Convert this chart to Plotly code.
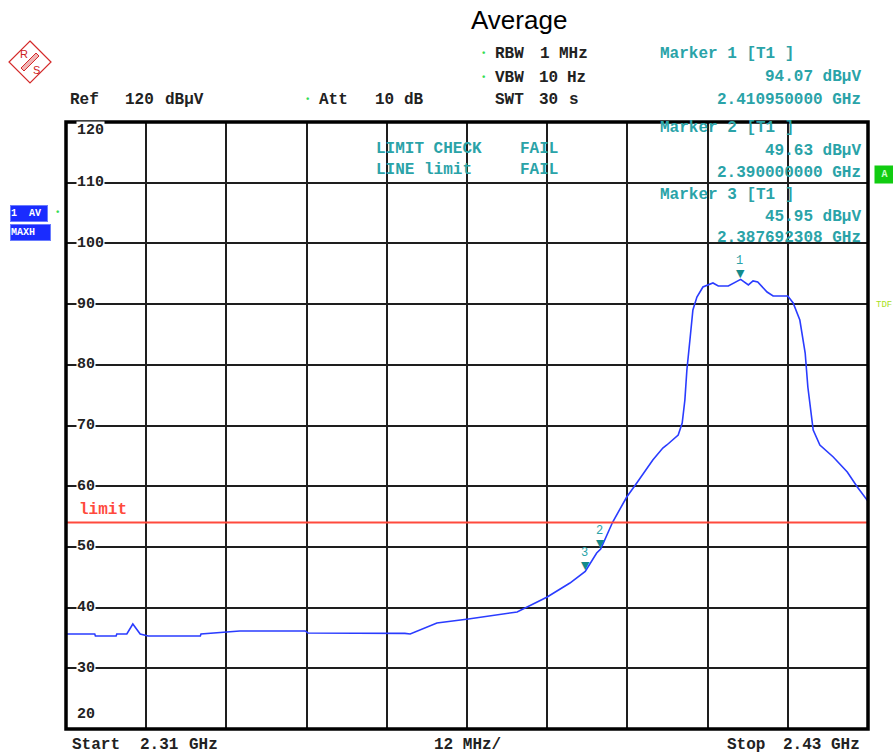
import plotly.graph_objects as go

# ---------------- data ----------------
freq_ghz = [2.3100, 2.3143, 2.3144, 2.3175, 2.3176, 2.3191, 2.3200, 2.3211, 2.3223,
            2.3301, 2.3302, 2.3360, 2.3458, 2.3462, 2.3607, 2.3615, 2.3655, 2.3702,
            2.3775, 2.3790, 2.3820, 2.3854, 2.3874, 2.387692308, 2.3894, 2.3900,
            2.3918, 2.3939, 2.3954, 2.3978, 2.3993, 2.3999, 2.4016, 2.4022, 2.4026,
            2.4029, 2.4034, 2.4038, 2.4044, 2.4053, 2.4068, 2.4076, 2.4091, 2.4101,
            2.41095, 2.4121, 2.4128, 2.4135, 2.4149, 2.4158, 2.4180, 2.4188, 2.4198,
            2.4206, 2.4210, 2.4218, 2.4228, 2.4248, 2.4269, 2.4284, 2.4299, 2.4300]
level_dbuv = [35.65, 35.65, 35.32, 35.32, 35.65, 35.65, 37.30, 35.65, 35.32,
              35.32, 35.65, 36.15, 36.15, 35.82, 35.75, 35.65, 37.46, 38.12,
              39.28, 40.10, 41.75, 44.05, 45.70, 45.95, 49.00, 49.63,
              54.10, 58.22, 60.53, 64.32, 66.29, 66.79, 68.43, 70.41, 74.20,
              79.14, 84.58, 89.03, 91.17, 92.82, 93.48, 92.99, 92.99, 93.64,
              94.07, 93.15, 93.81, 93.64, 91.99, 91.33, 91.33, 90.18, 87.38,
              81.94, 76.34, 69.26, 66.79, 64.81, 62.34, 59.87, 57.73, 57.50]

marker_names = ["1", "2", "3"]
marker_freq = [2.410950000, 2.390000000, 2.387692308]
marker_level = [94.07, 49.63, 45.95]

limit_level = 54
y_tick_values = [120, 110, 100, 90, 80, 70, 60, 50, 40, 30, 20]
x_start, x_stop = 2.31, 2.43
y_min, y_max = 20, 120

# ---------------- geometry helpers ----------------
W, H = 893, 754
L, R, T, B = 66, 868, 122, 729


def px(x):
    return (x - L) / (R - L)


def py(y):
    return (B - y) / (B - T)


MONO = "Liberation Mono"
TEAL = "#2aa3a8"
DARK = "#222222"

fig = go.Figure()

fig.add_trace(go.Scatter(x=freq_ghz, y=level_dbuv, mode="lines",
                         line=dict(color="#2a3cff", width=1.6),
                         hoverinfo="skip", showlegend=False))

# limit line
fig.add_trace(go.Scatter(x=[x_start, x_stop], y=[limit_level, limit_level], mode="lines",
                         line=dict(color="#ff4a3d", width=2),
                         hoverinfo="skip", showlegend=False))

annotations = []

# marker triangles & numbers
for name, f, lv in zip(marker_names, marker_freq, marker_level):
    annotations.append(dict(x=f, y=lv, xref="x", yref="y", text="▼", showarrow=False,
                            yanchor="bottom", yshift=-3,
                            font=dict(family="DejaVu Sans", size=11, color="#138a8a")))
    annotations.append(dict(x=f, y=lv, xref="x", yref="y", text=name, showarrow=False,
                            yanchor="bottom", yshift=9, xshift=-1,
                            font=dict(family=MONO, size=12, color=TEAL)))


def txt(x, y, s, color=DARK, size=16, anchor="left", bold=True, family=MONO, **kw):
    t = f"<b>{s}</b>" if bold else s
    d = dict(x=px(x), y=py(y), xref="paper", yref="paper", text=t, showarrow=False,
             xanchor=anchor, yanchor="middle", font=dict(family=family, size=size, color=color))
    d.update(kw)
    annotations.append(d)


# y tick labels inside plot
for v in y_tick_values:
    yy = B - (v - y_min) / (y_max - y_min) * (B - T)
    if v == y_max:
        yy = 131
    if v == y_min:
        yy = 714
    txt(76, yy, str(v), size=15, bgcolor="white", borderpad=0)

# title
txt(519, 20, "Average", color="black", size=26, anchor="center", bold=False,
    family="Liberation Sans")

# header left
txt(68, 100, "Ref")
txt(123, 100, "120")
txt(163, 100, "dBµV")
txt(307, 100, "•", color="#33dd55", size=9, anchor="center")
txt(317, 100, "Att")
txt(373, 100, "10")
txt(402, 100, "dB")

# RBW / VBW / SWT
txt(483, 54, "•", color="#33dd55", size=9, anchor="center")
txt(493, 54, "RBW")
txt(538, 54, "1")
txt(557, 54, "MHz")
txt(483, 78, "•", color="#33dd55", size=9, anchor="center")
txt(493, 78, "VBW")
txt(537, 78, "10")
txt(565, 78, "Hz")
txt(493, 100, "SWT")
txt(537, 100, "30")
txt(567, 100, "s")

# marker info
marker_rows = [(54, 77, 100), (128, 151, 173), (195, 217, 238)]
for name, f, lv, (y1, y2, y3) in zip(marker_names, marker_freq, marker_level, marker_rows):
    txt(658, y1, f"Marker {name} [T1 ]", color=TEAL)
    txt(863, y2, f"{lv:.2f} dBµV", color=TEAL, anchor="right")
    txt(863, y3, f"{f:.9f} GHz", color=TEAL, anchor="right")

# limit check
txt(374, 149, "LIMIT CHECK", color=TEAL)
txt(518, 149, "FAIL", color=TEAL)
txt(374, 170, "LINE limit", color=TEAL)
txt(518, 170, "FAIL", color=TEAL)

# limit label
txt(77, 510, "limit", color="#ff4a3d")

# bottom labels
txt(70, 745, "Start")
txt(138, 745, "2.31")
txt(187, 745, "GHz")
txt(432, 745, "12 MHz/")
txt(725, 745, "Stop")
txt(781, 745, "2.43")
txt(829, 745, "GHz")

# left trace boxes
annotations.append(dict(x=px(10), y=py(214), xref="paper", yref="paper",
                        text="<b>1  AV</b>", showarrow=False, xanchor="left", yanchor="middle",
                        bgcolor="#1a2cff", bordercolor="#6a7cff", borderwidth=1, borderpad=0,
                        width=36, height=15, align="left",
                        font=dict(family=MONO, size=10, color="white")))
annotations.append(dict(x=px(10), y=py(232), xref="paper", yref="paper",
                        text="<b>MAXH</b>", showarrow=False, xanchor="left", yanchor="middle",
                        bgcolor="#1a2cff", bordercolor="#6a7cff", borderwidth=1, borderpad=0,
                        width=39, height=15, align="left",
                        font=dict(family=MONO, size=10, color="white")))
txt(57, 213, "•", color="#33dd55", size=9, anchor="center")

# right side indicators
annotations.append(dict(x=px(874), y=py(174), xref="paper", yref="paper",
                        text="<b>A</b>", showarrow=False, xanchor="left", yanchor="middle",
                        bgcolor="#11cc11", borderpad=0, width=19, height=17,
                        font=dict(family=MONO, size=10, color="#c8ffc8")))
txt(874, 305, "TDF", color="#a6e020", size=9, bold=False)

# R&S logo (decorative)
cx, cy, hs = 30, 62, 21
logo_text = [("R", 24, 54), ("S", 36, 70)]
for ch, lx, ly in logo_text:
    txt(lx, ly, ch, color="#cc2222", size=11, anchor="center", bold=False,
        family="Liberation Sans")

shapes = [
    dict(type="path", xref="paper", yref="paper",
         path=f"M {px(cx)} {py(cy-hs)} L {px(cx+hs)} {py(cy)} L {px(cx)} {py(cy+hs)} L {px(cx-hs)} {py(cy)} Z",
         line=dict(color="#d42a2a", width=1.2)),
    dict(type="path", xref="paper", yref="paper",
         path=f"M {px(cx-9)} {py(cy+6)} L {px(cx+6)} {py(cy-9)} L {px(cx+9)} {py(cy-6)} L {px(cx-6)} {py(cy+9)} Z",
         line=dict(color="#d42a2a", width=1), fillcolor="rgba(212,42,42,0.35)"),
    # plot frame
    dict(type="rect", xref="paper", yref="paper", x0=0, y0=0, x1=1, y1=1,
         line=dict(color="black", width=3.5), layer="above"),
]

fig.update_layout(
    width=W, height=H,
    margin=dict(l=L, r=W - R, t=T, b=H - B, pad=0),
    paper_bgcolor="white", plot_bgcolor="white",
    xaxis=dict(range=[x_start, x_stop], tick0=x_start, dtick=(x_stop - x_start) / 10,
               showgrid=True, gridcolor="#1e1e1e", gridwidth=1.5,
               showticklabels=False, ticks="", zeroline=False, showline=False, fixedrange=True),
    yaxis=dict(range=[y_min, y_max], tick0=y_min, dtick=10,
               showgrid=True, gridcolor="#1e1e1e", gridwidth=1.5,
               showticklabels=False, ticks="", zeroline=False, showline=False, fixedrange=True),
    annotations=annotations,
    shapes=shapes,
    showlegend=False,
)

fig.write_html("out.html", config={"displayModeBar": False},
               post_script="document.body.style.margin='0';document.body.style.overflow='hidden';")
